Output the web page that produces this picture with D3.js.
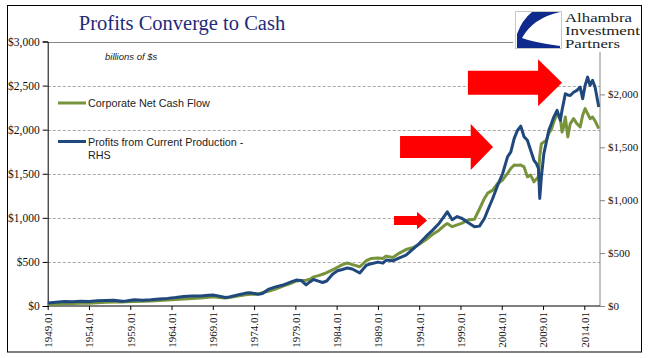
<!DOCTYPE html>
<html><head><meta charset="utf-8">
<script src="https://cdn.jsdelivr.net/npm/d3@7"></script>
<style>
html,body{margin:0;padding:0;background:#fff;}
svg{display:block;}
</style></head>
<body>
<svg id="chart" width="660" height="358"></svg>
<script>
// ---- data ----
const dates = [1949.0,1950.0,1951.0,1952.0,1953.0,1954.0,1955.0,1956.0,1957.0,1958.0,1958.5,1959.5,1960.5,1961.5,1962.5,1963.5,1964.5,1965.5,1966.5,1967.5,1968.5,1969.0,1969.5,1970.5,1971.0,1972.0,1973.0,1973.5,1974.5,1975.0,1975.8,1976.5,1977.5,1978.5,1979.1,1979.7,1980.3,1980.8,1981.2,1981.8,1982.3,1982.8,1983.5,1984.1,1984.7,1985.3,1985.9,1986.8,1987.6,1988.2,1989.0,1989.6,1990.0,1990.8,1991.6,1992.4,1993.2,1994.0,1994.8,1995.6,1996.4,1997.0,1997.4,1998.0,1998.6,1999.2,1999.9,2000.7,2001.3,2001.9,2002.3,2002.9,2003.5,2004.1,2004.7,2005.1,2005.5,2005.9,2006.3,2006.7,2007.1,2007.5,2007.9,2008.2,2008.45,2008.6,2008.8,2009.1,2009.4,2009.7,2010.0,2010.3,2010.7,2011.1,2011.3,2011.5,2011.7,2012.0,2012.3,2012.7,2013.1,2013.5,2013.8,2014.1,2014.4,2014.7,2015.0,2015.3,2015.75];
// Corporate Net Cash Flow (left axis, billions $)
const cashFlow = [20,24,27,28,30,32,38,42,45,44,47,52,54,57,63,68,74,80,86,90,98,104,100,92,95,112,128,132,135,150,170,188,226,258,283,290,292,305,330,345,360,378,410,440,470,488,470,445,515,540,545,540,566,551,600,640,660,700,750,810,860,910,935,900,920,940,975,985,1100,1220,1280,1314,1390,1430,1505,1560,1600,1597,1600,1578,1465,1484,1408,1440,1465,1700,1840,1861,1880,1960,2000,2087,2182,2125,1974,2031,2144,1918,2069,2125,2069,2031,2163,2239,2182,2125,2144,2100,2012];
// Profits from Current Production (right axis, billions $)
const profits = [28,36,42,40,44,43,50,52,54,44,48,60,55,58,66,72,80,90,95,94,102,104,98,80,86,104,122,126,112,118,160,178,198,228,245,242,200,230,250,235,222,236,300,333,345,360,350,312,385,400,415,405,435,427,455,480,535,590,655,715,780,845,890,815,845,827,790,750,755,827,905,1016,1140,1250,1410,1456,1582,1660,1700,1600,1566,1472,1377,1346,1300,1016,1220,1440,1550,1660,1720,1786,1849,1755,1850,1927,2006,1995,1990,2020,2038,2069,1959,2085,2163,2085,2132,2069,1880];
const seriesNames = ["Corporate Net Cash Flow","Profits from Current Production -","RHS"];
const leftTicks = [0,500,1000,1500,2000,2500,3000];
const rightTicks = [0,500,1000,1500,2000];
const xTickYears = [1949,1954,1959,1964,1969,1974,1979,1984,1989,1994,1999,2004,2009,2014];
const xTickLabels = xTickYears.map(y => y + ".01");
// arrows: [tail year, head-start year, tip year, centre value on left axis]
const arrowTail = [1990.95, 1991.68, 1999.9];
const arrowNeck = [1993.74, 2000.24, 2008.4];
const arrowTip  = [1994.95, 2002.94, 2011.3];
const arrowMid  = [970, 1803, 2531];

// ---- layout ----
const svg = d3.select("#chart");
const X0 = 47.7, X1 = 600, YT = 41.5, YB = 306;
const x = d3.scaleLinear().domain([1949, 2015.9]).range([X0, X1]);
const yL = d3.scaleLinear().domain([0, 3000]).range([YB, YT]);
const yR = d3.scaleLinear().domain([0, 2500]).range([YB, YT]);
const serif = "'Liberation Serif','Times New Roman',serif";
const sans = "'Liberation Sans',Arial,sans-serif";

svg.append("rect").attr("x",0).attr("y",0).attr("width",660).attr("height",358).attr("fill","#fff");
svg.append("rect").attr("x",7.5).attr("y",5.5).attr("width",634).attr("height",346.5)
  .attr("fill","none").attr("stroke","#000").attr("stroke-width",1);

// gridlines
svg.append("g").selectAll("line").data(leftTicks.filter(d => d > 0 && d < 3000)).join("line")
  .attr("x1", X0).attr("x2", X1).attr("y1", d => Math.round(yL(d)) + 0.5).attr("y2", d => Math.round(yL(d)) + 0.5)
  .attr("stroke", "#a6a6a6").attr("stroke-dasharray", "3,2").attr("stroke-width", 1);
svg.append("line").attr("x1", X0).attr("x2", X1).attr("y1", Math.round(yL(3000)) + 0.5).attr("y2", Math.round(yL(3000)) + 0.5)
  .attr("stroke", "#868686").attr("stroke-width", 1);

// left axis
const gL = svg.append("g").attr("transform", `translate(${X0},0)`)
  .call(d3.axisLeft(yL).tickValues(leftTicks).tickSize(5).tickPadding(3).tickFormat(d => "$" + d3.format(",")(d)));
gL.select(".domain").attr("stroke", "#000");
gL.selectAll(".tick line").attr("stroke", "#000");
gL.selectAll("text").attr("font-family", serif).attr("font-size", "11.5px").attr("fill", "#111");

// right axis
const gR = svg.append("g").attr("transform", `translate(${X1},0)`)
  .call(d3.axisRight(yR).tickValues(rightTicks).tickSize(5).tickPadding(3).tickFormat(d => "$" + d3.format(",")(d)));
gR.select(".domain").attr("stroke", "#868686").attr("d", `M0,${YT}V${YB}`);
gR.selectAll(".tick line").attr("stroke", "#868686");
gR.selectAll("text").attr("font-family", serif).attr("font-size", "11px").attr("fill", "#111");

// bottom axis
const gB = svg.append("g").attr("transform", `translate(0,${YB})`)
  .call(d3.axisBottom(x).tickValues(xTickYears).tickSize(4).tickFormat((d, i) => xTickLabels[i]));
gB.select(".domain").attr("stroke", "#000").attr("d", `M${X0},0H${X1}`);
gB.selectAll(".tick line").attr("stroke", "#000");
gB.selectAll("text").attr("font-family", serif).attr("font-size", "11px").attr("fill", "#111")
  .attr("transform", "rotate(-90)").attr("text-anchor", "end").attr("dy", "0.35em").attr("x", -6).attr("y", 0);

// lines
const lineCash = d3.line().x((d, i) => x(dates[i])).y(d => yL(d));
const lineProf = d3.line().x((d, i) => x(dates[i])).y(d => yR(d));
svg.append("path").attr("d", lineCash(cashFlow)).attr("fill", "none").attr("stroke", "#77933c")
  .attr("stroke-width", 3).attr("stroke-linejoin", "round");
svg.append("path").attr("d", lineProf(profits)).attr("fill", "none").attr("stroke", "#1f497d")
  .attr("stroke-width", 3).attr("stroke-linejoin", "round");

// arrows
const arrowBody = [4.5, 11, 12], arrowHead = [8.7, 23, 23.5];
svg.append("g").selectAll("path").data(arrowMid).join("path")
  .attr("fill", "#ff0000")
  .attr("d", (v, i) => {
    const cy = yL(v), a = x(arrowTail[i]), b = x(arrowNeck[i]), c = x(arrowTip[i]);
    const h = arrowBody[i], H = arrowHead[i];
    return `M${a},${cy-h}L${b},${cy-h}L${b},${cy-H}L${c},${cy}L${b},${cy+H}L${b},${cy+h}L${a},${cy+h}Z`;
  });

// title and subtitle
svg.append("text").attr("x", 182).attr("y", 29.5).attr("text-anchor", "middle")
  .attr("font-family", serif).attr("font-size", "20.5px").attr("fill", "#1f2a7a").text("Profits Converge to Cash");
svg.append("text").attr("x", 105).attr("y", 60).attr("font-family", sans).attr("font-style", "italic")
  .attr("font-size", "9.5px").attr("fill", "#222").text("billions of $s");

// legend
const lg = svg.append("g");
lg.append("line").attr("x1", 58).attr("x2", 86).attr("y1", 103).attr("y2", 103).attr("stroke", "#77933c").attr("stroke-width", 3);
lg.append("text").attr("x", 88).attr("y", 107).attr("font-family", sans).attr("font-size", "10.8px").attr("fill", "#222").text(seriesNames[0]);
lg.append("line").attr("x1", 58).attr("x2", 86).attr("y1", 141.5).attr("y2", 141.5).attr("stroke", "#1f497d").attr("stroke-width", 3);
lg.append("text").attr("x", 88).attr("y", 145.5).attr("font-family", sans).attr("font-size", "10.8px").attr("fill", "#222").text(seriesNames[1]);
lg.append("text").attr("x", 88).attr("y", 159).attr("font-family", sans).attr("font-size", "10.8px").attr("fill", "#222").text(seriesNames[2]);

// logo
const logo = svg.append("g");
logo.append("rect").attr("x", 513).attr("y", 7).attr("width", 128).attr("height", 45).attr("fill", "#fff");
logo.append("rect").attr("x", 515.5).attr("y", 11.5).attr("width", 46).attr("height", 37).attr("fill", "#fff").attr("stroke", "#c8c8c8");
logo.append("path").attr("fill", "#0d2a8c")
  .attr("d", "M532,12 L560,12 Q533,18 522,38 Q532,42 560,46 L560,48 L517,48 L517,34 Q522,20 532,12 Z");
logo.append("path").attr("fill", "#fff")
  .attr("d", "M545,20 Q530,28 527,38 Q536,42 556,45 Q538,36 545,20 Z");
const logoText = ["Alhambra", "Investment", "Partners"];
const logoWidth = [67, 75, 55];
logo.selectAll("text.lt").data(logoText).join("text").attr("class", "lt")
  .attr("x", 565).attr("y", (d, i) => 22 + i * 13)
  .attr("textLength", (d, i) => logoWidth[i]).attr("lengthAdjust", "spacingAndGlyphs")
  .attr("font-family", serif).attr("font-size", "12.5px").attr("fill", "#222").text(d => d);
</script>
</body></html>
